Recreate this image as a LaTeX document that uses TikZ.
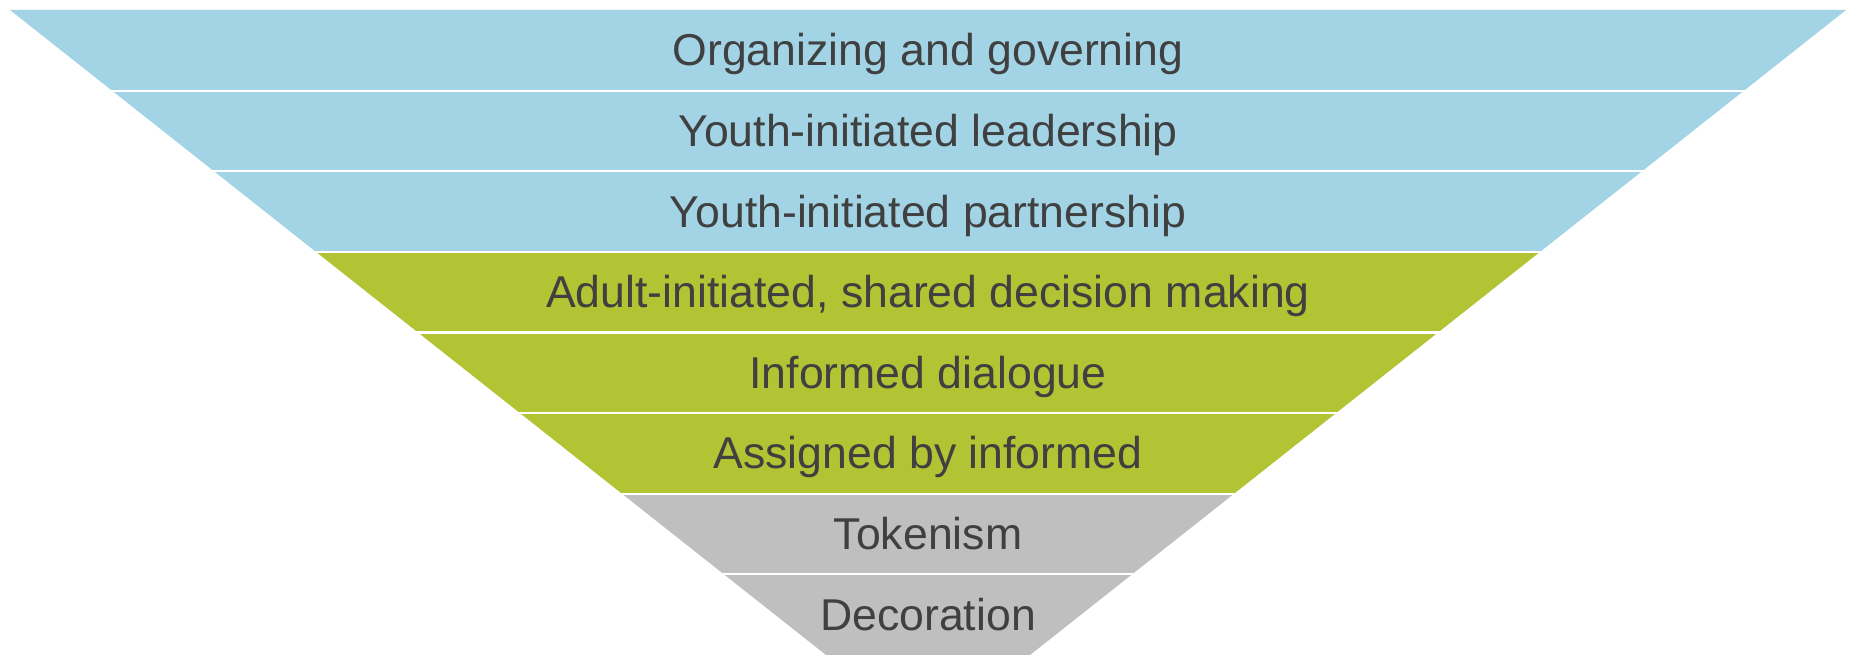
\documentclass[tikz,border=0pt]{standalone}
\usepackage{fontspec}
\setmainfont{Liberation Sans}
\definecolor{bandblue}{RGB}{162,212,230}
\definecolor{bandgreen}{RGB}{178,196,52}
\definecolor{bandgray}{RGB}{191,191,191}
\definecolor{txt}{RGB}{64,64,64}
\tikzset{
  lbl/.style={text=txt, font=\fontsize{44.6}{46}\selectfont, inner sep=0pt, anchor=base},
  sep/.style={draw=white, line width=2.2pt}
}
\begin{document}
\begin{tikzpicture}[x=1pt,y=-1pt]
\useasboundingbox (0,0) rectangle (1851,655);
\fill[white] (0,0) rectangle (1851,655);
\def\H{80.625}
\def\D{102}
\foreach \i/\c/\t/\n in {0/bandblue/Organizing and governing/b1,
                         1/bandblue/Youth-initiated leadership/b2,
                         2/bandblue/Youth-initiated partnership/b3,
                         3/bandgreen/{Adult-initiated, shared decision making}/b4,
                         4/bandgreen/Informed dialogue/b5,
                         5/bandgreen/Assigned by informed/b6,
                         6/bandgray/Tokenism/b7,
                         7/bandgray/Decoration/b8}{
  \pgfmathsetmacro{\yt}{10+\i*\H}
  \pgfmathsetmacro{\yb}{10+(\i+1)*\H}
  \pgfmathsetmacro{\xl}{10+\i*\D}
  \pgfmathsetmacro{\xr}{1846-\i*\D}
  \pgfmathsetmacro{\xlb}{10+(\i+1)*\D}
  \pgfmathsetmacro{\xrb}{1846-(\i+1)*\D}
  \fill[\c] (\xl,\yt) -- (\xr,\yt) -- (\xrb,\yb) -- (\xlb,\yb) -- cycle;
  \node[lbl] (\n) at (928,{(\yt+\yb)/2+15.5}) {\t};
}
\foreach \i in {1,...,7}{
  \pgfmathsetmacro{\ys}{10+\i*\H}
  \draw[sep] (0,\ys) -- (1851,\ys);
}
\end{tikzpicture}
\end{document}
